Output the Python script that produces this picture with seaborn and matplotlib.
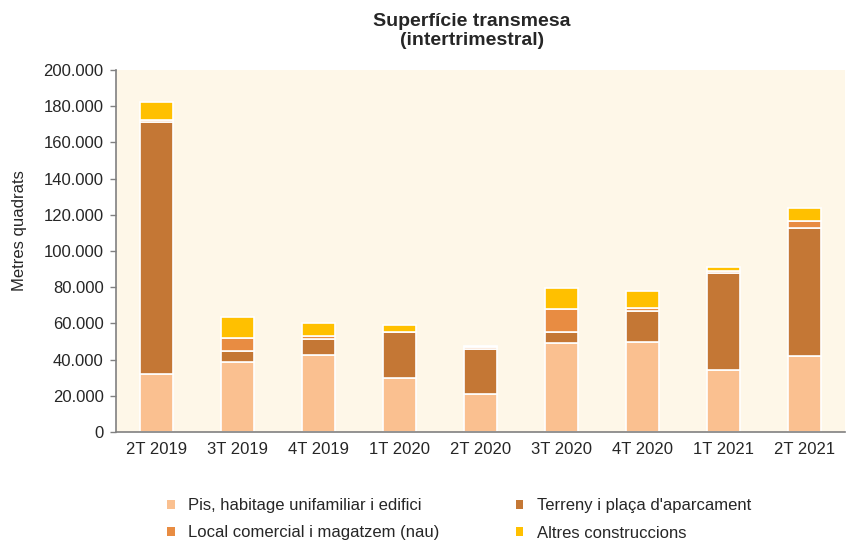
import matplotlib
matplotlib.use("Agg")
import matplotlib.pyplot as plt
import matplotlib.ticker as mticker
from matplotlib.patches import Patch
import seaborn as sns
import numpy as np

categories = ["2T 2019", "3T 2019", "4T 2019", "1T 2020", "2T 2020",
              "3T 2020", "4T 2020", "1T 2021", "2T 2021"]
pis = [32000, 38800, 42700, 30000, 21000, 49000, 50000, 34000, 42000]
terreny = [139500, 6000, 8700, 25000, 24700, 6000, 16800, 53700, 70500]
local = [1000, 7000, 1800, 500, 1000, 13000, 1800, 1500, 4000]
altres = [10000, 12000, 7200, 3800, 700, 11800, 9200, 2000, 7000]

series_names = ["Pis, habitage unifamiliar i edifici",
                "Terreny i plaça d'aparcament",
                "Local comercial i magatzem (nau)",
                "Altres construccions"]
series_vals = [pis, terreny, local, altres]
colors = ["#FAC090", "#C47735", "#E88C42", "#FFC000"]

sns.set_style("white")
plt.rcParams['font.family'] = ['Liberation Sans', 'DejaVu Sans']

fig = plt.figure(figsize=(8.52, 5.43), dpi=100)
ax = fig.add_axes([116/852, 1 - 432/543, (845-116)/852, (432-70)/543])
ax.set_facecolor("#FEF7E8")

bottom = np.zeros(len(categories))
for name, vals, c in zip(series_names, series_vals, colors):
    sns.barplot(x=categories, y=vals, bottom=bottom, color=c, width=0.41,
                edgecolor="white", linewidth=1.2, ax=ax, saturation=1)
    bottom = bottom + np.array(vals)

ax.set_ylim(0, 200000)
ax.set_xlim(-0.5, len(categories) - 0.5)
ax.yaxis.set_major_locator(mticker.MultipleLocator(20000))
ax.yaxis.set_major_formatter(mticker.FuncFormatter(
    lambda v, p: "0" if v == 0 else f"{int(v):,}".replace(",", ".")))
ax.set_xticks(np.arange(len(categories) + 1) - 0.5, minor=True)
ax.tick_params(axis='x', which='major', length=0, labelsize=12, pad=7)
ax.tick_params(axis='x', which='minor', length=4, color="#808080", width=1)
ax.tick_params(axis='y', length=4, color="#808080", width=1, labelsize=12,
               left=True, pad=5)
for s in ["top", "right"]:
    ax.spines[s].set_visible(False)
for s in ["left", "bottom"]:
    ax.spines[s].set_color("#808080")
    ax.spines[s].set_linewidth(1.2)
ax.set_ylabel("")
ax.set_xlabel("")
fig.text(20/852, 1 - 231/543, "Metres quadrats", rotation=90,
         ha="center", va="center", fontsize=12)

fig.text(472/852, 1 - 31/543, "Superfície transmesa\n(intertrimestral)",
         ha="center", va="center", fontsize=14, fontweight="bold", linespacing=1.15)

handles = [Patch(facecolor=c, edgecolor="none") for c in colors]
order = [0, 2, 1, 3]
leg = fig.legend([handles[i] for i in order], [series_names[i] for i in order],
                 ncol=2, loc="upper left", bbox_to_anchor=(167/852, 1 - 498/543),
                 frameon=False, fontsize=12, handlelength=0.45, handleheight=0.45,
                 columnspacing=4.6, labelspacing=0.75, handletextpad=0.8,
                 borderpad=0, borderaxespad=0)

fig.savefig("out.png", dpi=100)
